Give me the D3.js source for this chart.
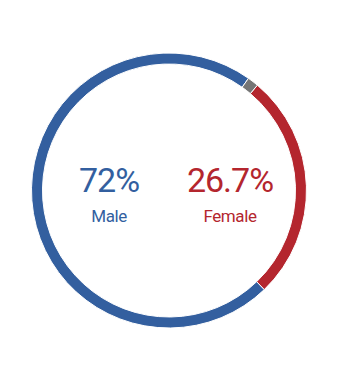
<!DOCTYPE html>
<html>
<head>
<meta charset="utf-8">
<script src="https://cdn.jsdelivr.net/npm/d3@7"></script>
<style>
body{margin:0;background:#fff;}
text{font-family:Roboto,"Noto Sans",sans-serif;}
</style>
</head>
<body>
<div id="chart"></div>
<script>
(function(){
var width = 338,
	height = 375,
	cx = 169,
	cy = 190.5,
	outer_r = 137.5,
	inner_r = 126.5;

var categories = ["Male","Female","Other"],
	values = [72, 26.7, 1.3],
	colors = ["#335f9f","#b4262e","#757575"],
	labels = ["72%","26.7%",""];

// ring starts where the female arc begins, then male, then other
var drawOrder = ["Female","Male","Other"];

var data = categories.map(function(c,i){ return {name:c, value:values[i], color:colors[i], label:labels[i]}; });

var pie = d3.pie()
	.value(function(d){ return d.value; })
	.sort(function(a,b){ return drawOrder.indexOf(a.name)-drawOrder.indexOf(b.name); })
	.startAngle(40*Math.PI/180)
	.endAngle(40*Math.PI/180 + 2*Math.PI);

var arc = d3.arc().innerRadius(inner_r).outerRadius(outer_r);

var svg = d3.select("#chart").append("svg")
	.attr("width",width)
	.attr("height",height);

var g = svg.append("g").attr("transform","translate("+cx+","+cy+")");

g.selectAll("path").data(pie(data)).enter().append("path")
	.attr("d",arc)
	.attr("fill",function(d){ return d.data.color; })
	.attr("stroke","#fff")
	.attr("stroke-width",1);

var textPos = {Male:-60, Female:61};

var shown = data.filter(function(d){ return d.label; });

g.selectAll(".pct").data(shown).enter().append("text")
	.attr("class","pct")
	.attr("x",function(d){ return textPos[d.name]; })
	.attr("y",1.5)
	.attr("text-anchor","middle")
	.attr("font-size",34)
	.attr("letter-spacing",-1)
	.attr("fill",function(d){ return d.color; })
	.text(function(d){ return d.label; });

g.selectAll(".lbl").data(shown).enter().append("text")
	.attr("class","lbl")
	.attr("x",function(d){ return textPos[d.name]; })
	.attr("y",31)
	.attr("text-anchor","middle")
	.attr("font-size",17)
	.attr("letter-spacing",-0.4)
	.attr("fill",function(d){ return d.color; })
	.text(function(d){ return d.name; });
})()
</script>
</body>
</html>
